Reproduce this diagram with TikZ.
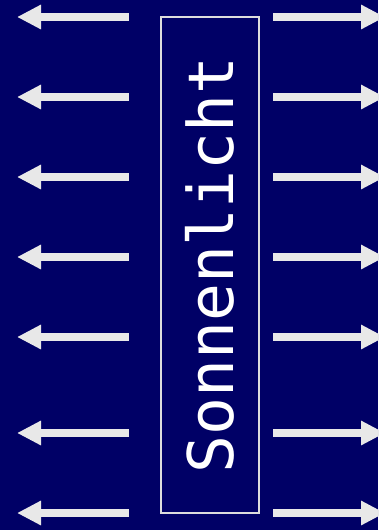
\documentclass[tikz,border=0pt]{standalone}
\usepackage{fontspec}
\newfontfamily\monofont{DejaVu Sans Mono}
\usetikzlibrary{arrows.meta}
\definecolor{navybg}{HTML}{000066}
\definecolor{arrowgray}{HTML}{E8E8E8}
\definecolor{boxgray}{HTML}{DDDDDD}
\tikzset{
  lightarrow/.style={draw=arrowgray, line width=8pt,
    -{Triangle[length=24pt,width=23pt]}, arrowgray},
  sunbox/.style={draw=boxgray, line width=1.6pt, minimum width=98pt,
    minimum height=496pt, inner sep=0pt},
  suntext/.style={text=white, rotate=90, inner sep=0pt,
    font=\monofont\fontsize{63}{70}\selectfont}
}
\begin{document}
\begin{tikzpicture}[x=1pt,y=-1pt]
\fill[navybg] (0,0) rectangle (378,530);
\useasboundingbox (0,0) rectangle (378,530);
\node[sunbox] (box) at (210,265) {};
\node[suntext] (label) at (210,265) {Sonnenlicht};
\foreach \i/\yy in {1/17,2/97,3/177,4/257,5/337,6/433,7/513}{
  \coordinate (ls\i) at (129,\yy);
  \coordinate (le\i) at (17,\yy);
  \coordinate (rs\i) at (273,\yy);
  \coordinate (re\i) at (385,\yy);
  \draw[lightarrow] (ls\i) -- (le\i);
  \draw[lightarrow] (rs\i) -- (re\i);
}
\end{tikzpicture}
\end{document}
